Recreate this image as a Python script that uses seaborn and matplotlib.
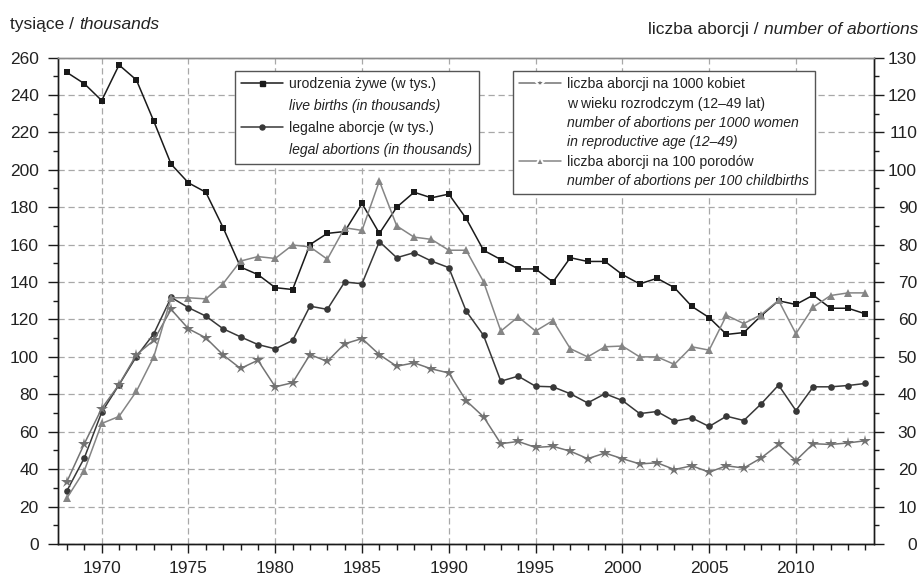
import numpy as np
import pandas as pd
import matplotlib
matplotlib.use('Agg')
import matplotlib.pyplot as plt
from matplotlib.lines import Line2D
from matplotlib.ticker import MultipleLocator
import seaborn as sns

# data
years = list(range(1968, 2015))

# left axis (thousands)
live_births = [252, 246, 237, 256, 248, 226, 203, 193, 188, 169,
               148, 144, 137, 136, 160, 166, 167, 182, 166, 180,
               188, 185, 187, 174, 157, 152, 147, 147, 140, 153,
               151, 151, 144, 139, 142, 137, 127, 121, 112, 113,
               122, 130, 128, 133, 126, 126, 123]
legal_abortions = [28.5, 46.0, 70.4, 85.1, 100.2, 112.3, 131.8, 126.3, 121.8, 115.0,
                   110.7, 106.6, 104.3, 108.8, 127.1, 125.4, 140.0, 139.1, 161.6, 153.0,
                   155.7, 151.2, 147.7, 124.5, 111.5, 87.0, 89.7, 84.3, 84.0, 80.3,
                   75.4, 80.3, 76.7, 69.7, 70.8, 65.6, 67.4, 62.8, 68.3, 66.0,
                   74.9, 84.9, 71.3, 84.0, 84.0, 84.7, 85.8]

# right axis (number of abortions)
per_1000_women = [16.7, 26.8, 36.2, 42.6, 50.6, 54.4, 62.7, 57.5, 55.1, 50.5,
                  46.9, 49.1, 42.0, 43.1, 50.6, 48.8, 53.5, 54.9, 50.6, 47.5,
                  48.4, 46.8, 45.7, 38.3, 34.0, 26.8, 27.4, 25.8, 26.1, 24.8,
                  22.8, 24.3, 22.8, 21.4, 21.7, 19.9, 20.9, 19.2, 20.9, 20.3,
                  23.0, 26.6, 22.3, 26.8, 26.6, 27.0, 27.6]
per_100_births = [12.3, 19.6, 32.2, 34.1, 40.8, 50.0, 65.8, 65.8, 65.5, 69.6,
                  75.6, 76.8, 76.3, 79.9, 79.4, 76.1, 84.5, 83.8, 97.0, 85.0,
                  82.0, 81.4, 78.5, 78.5, 70.1, 56.9, 60.7, 56.9, 59.7, 52.2,
                  50.0, 52.7, 52.9, 50.0, 50.0, 48.0, 52.7, 51.8, 61.1, 58.9,
                  61.3, 65.1, 56.2, 63.3, 66.4, 67.1, 67.1]

df = pd.DataFrame({'year': years, 'births': live_births, 'abortions': legal_abortions,
                   'per1000': per_1000_women, 'per100': per_100_births})

sns.set_style('ticks')
plt.rcParams['font.family'] = ['Liberation Sans', 'DejaVu Sans']
plt.rcParams['axes.unicode_minus'] = False

DARK = '#1a1a1a'
MID = '#383838'
GRAY = '#737373'
GRAY2 = '#858585'
TXT = '#222222'
LEG_FS = 10.1
TICK_FS = 12.5
HEAD_FS = 12.5

fig = plt.figure(figsize=(9.21, 5.78), dpi=100)
ax = fig.add_axes([58.3 / 921, 34 / 578, (874 - 58.3) / 921, (544 - 57.5) / 578])
ax2 = ax.twinx()

sns.lineplot(data=df, x='year', y='births', ax=ax, color=DARK, lw=1.1,
             marker='s', markersize=5.0, markeredgewidth=0)
sns.lineplot(data=df, x='year', y='abortions', ax=ax, color=MID, lw=1.1,
             marker='o', markersize=4.8, markeredgewidth=0)
sns.lineplot(data=df, x='year', y='per1000', ax=ax2, color=GRAY, lw=1.1,
             marker='*', markersize=9, markeredgewidth=0)
sns.lineplot(data=df, x='year', y='per100', ax=ax2, color=GRAY2, lw=1.1,
             marker='^', markersize=6.3, markeredgewidth=0)

ax.set_xlim(1967.5, 2014.5)
ax.set_ylim(0, 260)
ax2.set_ylim(0, 130)
ax.set_xlabel('')
ax.set_ylabel('')
ax2.set_ylabel('')

ax.xaxis.set_major_locator(MultipleLocator(5))
ax.xaxis.set_minor_locator(MultipleLocator(1))
ax.yaxis.set_major_locator(MultipleLocator(20))
ax.yaxis.set_minor_locator(MultipleLocator(10))
ax2.yaxis.set_major_locator(MultipleLocator(10))
ax2.yaxis.set_minor_locator(MultipleLocator(5))

ax.grid(True, which='major', linestyle=(0, (5, 3)), color='#a8a8a8', lw=0.9)
ax.set_axisbelow(True)

ax.tick_params(axis='x', which='major', length=6.5, width=1, color=DARK,
               labelsize=TICK_FS, labelcolor=TXT, pad=6)
ax.tick_params(axis='x', which='minor', length=4.3, width=1, color=DARK)
ax.tick_params(axis='y', which='major', length=7.2, width=1, color=DARK,
               labelsize=TICK_FS, labelcolor=TXT, pad=7)
ax.tick_params(axis='y', which='minor', length=3.6, width=1, color=DARK)
ax2.tick_params(axis='y', which='major', length=7.2, width=1, color=DARK,
                labelsize=TICK_FS, labelcolor=TXT, pad=23.8)
ax2.tick_params(axis='y', which='minor', length=3.6, width=1, color=DARK)
for lab in ax2.get_yticklabels():
    lab.set_horizontalalignment('right')

for a in (ax, ax2):
    for side in ('left', 'right', 'bottom'):
        a.spines[side].set_color(DARK)
        a.spines[side].set_linewidth(1)
    a.spines['top'].set_color('#8a8a8a')
    a.spines['top'].set_linewidth(1)

# legends: one entry per text line so Polish / English lines can differ in style
blank = Line2D([], [], linestyle='none')
h_births = Line2D([], [], color=DARK, lw=1.1, marker='s', markersize=3.6)
h_abort = Line2D([], [], color=MID, lw=1.1, marker='o', markersize=3.6)
h_1000 = Line2D([], [], color=GRAY, lw=1.1, marker='*', markersize=7.5,
                markeredgecolor='white', markeredgewidth=1.4)
h_100 = Line2D([], [], color=GRAY2, lw=1.1, marker='^', markersize=5.5,
               markeredgecolor='white', markeredgewidth=1.4)

common = dict(loc='upper left', bbox_transform=fig.transFigure, fontsize=LEG_FS,
              frameon=True, fancybox=False, framealpha=1, edgecolor='#555555',
              handlelength=3.0, handletextpad=0.42, borderpad=0.45, borderaxespad=0)

leg1 = ax2.legend([h_births, blank, h_abort, blank],
                  ['urodzenia żywe (w tys.)', 'live births (in thousands)',
                   'legalne aborcje (w tys.)', 'legal abortions (in thousands)'],
                  bbox_to_anchor=(235 / 921, 1 - 71 / 578), labelspacing=0.57, **common)
leg1.get_frame().set_linewidth(1)
for i, t in enumerate(leg1.get_texts()):
    t.set_color(TXT)
    if i % 2 == 1:
        t.set_fontstyle('italic')
ax2.add_artist(leg1)

leg2 = ax2.legend([h_1000, blank, blank, blank, h_100, blank],
                  ['liczba aborcji na 1000 kobiet', 'w wieku rozrodczym (12–49 lat)',
                   'number of abortions per 1000 women', 'in reproductive age (12–49)',
                   'liczba aborcji na 100 porodów', 'number of abortions per 100 childbirths'],
                  bbox_to_anchor=(513 / 921, 1 - 71 / 578), labelspacing=0.38, **common)
leg2.get_frame().set_linewidth(1)
for i, t in enumerate(leg2.get_texts()):
    t.set_color(TXT)
    if i in (2, 3, 5):
        t.set_fontstyle('italic')

# axis headers
t1 = fig.text(10 / 921, 1 - 29 / 578, 'tysiące / ', fontsize=HEAD_FS, color=TXT, va='baseline')
ax.annotate('thousands', xy=(1, 0), xycoords=t1, fontsize=HEAD_FS, color=TXT,
            style='italic', va='bottom', ha='left')
t2 = fig.text(918 / 921, 1 - 34 / 578, 'number of abortions', fontsize=HEAD_FS, color=TXT,
              style='italic', va='baseline', ha='right')
ax.annotate('liczba aborcji / ', xy=(0, 0), xycoords=t2, fontsize=HEAD_FS, color=TXT,
            va='bottom', ha='right')

fig.savefig('out.png', dpi=100)
